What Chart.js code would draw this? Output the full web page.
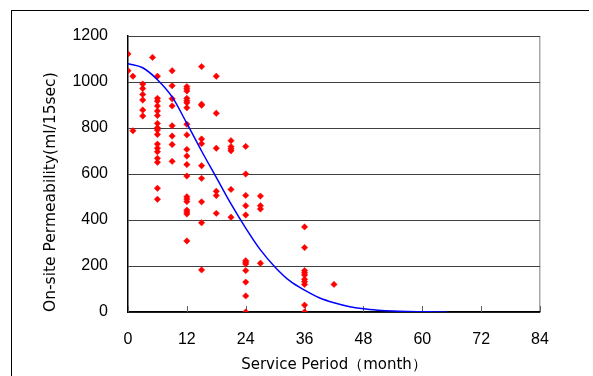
<!DOCTYPE html>
<html>
<head>
<meta charset="utf-8">
<script src="https://cdn.jsdelivr.net/npm/chart.js@4/dist/chart.umd.min.js"></script>
<style>
  html, body { margin: 0; padding: 0; background: #fff; }
  #wrap { position: relative; width: 593px; height: 376px; overflow: hidden; }
  #frame { position: absolute; left: 11px; top: 10px; width: 577px; height: 400px;
           border-top: 1px solid #000; border-left: 1px solid #000; }
  canvas { position: absolute; left: 0; top: 0; }
</style>
</head>
<body>
<div id="wrap">
  <div id="frame"></div>
  <canvas id="c" width="593" height="376"></canvas>
</div>
<script>
// ---- data ----
const xTitle = "Service Period（month）";
const yTitle = "On-site Permeability(ml/15sec)";
const xTicks = [0, 12, 24, 36, 48, 60, 72, 84];
const yTicks = [0, 200, 400, 600, 800, 1000, 1200];

// observed measurements: month -> permeability values
const m0  = [1122, 1049];
const m1  = [1025, 788];
const m3  = [991, 972, 946, 922, 878, 852];
const m5  = [1107];
const m6  = [1025, 929, 917, 896, 874, 854, 820, 801, 791, 772, 730, 712, 697, 668, 651, 538, 490];
const m9  = [1049, 984, 927, 896, 810, 765, 728, 655];
const m12 = [980, 971, 961, 929, 919, 910, 888, 816, 770, 707, 678, 641, 591, 501, 491, 480, 443, 435, 426, 309];
const m15 = [1067, 903, 899, 752, 732, 636, 581, 479, 388, 183];
const m18 = [1025, 864, 712, 525, 506, 429];
const m21 = [745, 719, 710, 701, 533, 412];
const m24 = [720, 600, 507, 462, 422, 223, 216, 209, 180, 130, 70, 0];
const m27 = [504, 462, 448, 212];
const m36 = [370, 280, 180, 171, 161, 142, 132, 120, 30, 0];
const m42 = [120];

// fitted curve
const curveMonths = [0, 3, 6, 9, 12, 15, 18, 21, 24, 27, 30, 33, 36, 39, 42, 45, 48, 51, 54, 57, 60, 63, 65];
const curveValues = [1080, 1062, 1010, 935, 820, 700, 585, 470, 365, 270, 195, 135, 95, 62, 40, 24, 14, 8, 4, 2, 1, 0, 0];

// ---- build datasets ----
const groups = [[0, m0], [1, m1], [3, m3], [5, m5], [6, m6], [9, m9], [12, m12], [15, m15],
                [18, m18], [21, m21], [24, m24], [27, m27], [36, m36], [42, m42]];
const scatterPts = [];
groups.forEach(([m, vals]) => vals.forEach(v => scatterPts.push({x: m, y: v})));
const curvePts = curveMonths.map((m, i) => ({x: m, y: curveValues[i]}));

const insideTicks = {
  id: 'insideTicks',
  beforeDatasetsDraw(chart) {
    const {ctx, chartArea} = chart;
    const xs = chart.scales.x;
    ctx.save();
    ctx.strokeStyle = '#606060';
    ctx.lineWidth = 1;
    xs.ticks.forEach(t => {
      const px = Math.round(xs.getPixelForValue(t.value)) + 0.5;
      ctx.beginPath();
      ctx.moveTo(px, chartArea.bottom);
      ctx.lineTo(px, chartArea.bottom - 6);
      ctx.stroke();
    });
    ctx.restore();
  }
};

new Chart(document.getElementById('c'), {
  type: 'scatter',
  data: {
    datasets: [
      {
        label: 'measured',
        data: scatterPts,
        pointStyle: 'rectRot',
        pointRadius: 3.2,
        pointHoverRadius: 3.2,
        backgroundColor: '#ff0000',
        borderColor: '#ff0000',
        borderWidth: 0.5,
        order: 2
      },
      {
        label: 'curve',
        data: curvePts,
        showLine: true,
        borderColor: '#0000ff',
        borderWidth: 1.5,
        pointRadius: 0,
        fill: false,
        cubicInterpolationMode: 'monotone',
        order: 1
      }
    ]
  },
  options: {
    responsive: false,
    animation: false,
    layout: { padding: { left: 0, top: 36, right: 53, bottom: 0 } },
    plugins: { legend: { display: false }, tooltip: { enabled: false } },
    scales: {
      x: {
        type: 'linear',
        min: 0, max: 84,
        afterBuildTicks: s => { s.ticks = xTicks.map(v => ({value: v})); },
        afterFit: s => { s.height = 64; },
        ticks: { color: '#000', padding: 18, font: { family: 'Liberation Sans', size: 16 },
                 callback: v => String(v) },
        grid: {
          drawTicks: false,
          color: c => (c.tick && c.tick.value === 84) ? '#a8a8a8' : 'rgba(0,0,0,0)',
          lineWidth: 1.5
        },
        border: { color: '#000', width: 1.5 },
        title: { display: true, text: xTitle, color: '#000',
                 font: { family: 'DejaVu Sans', size: 15 }, padding: { top: 0, bottom: 2 } }
      },
      y: {
        min: 0, max: 1200,
        afterBuildTicks: s => { s.ticks = yTicks.map(v => ({value: v})); },
        afterFit: s => { s.width = 128; },
        ticks: { color: '#000', padding: 20, font: { family: 'Liberation Sans', size: 16 },
                 callback: v => String(v) },
        grid: { drawTicks: false, color: '#404040', lineWidth: 1 },
        border: { color: '#000', width: 1.5 },
        title: { display: true, text: yTitle, color: '#000', align: 'start',
                 font: { family: 'DejaVu Sans', size: 15.5 }, padding: { top: 42, bottom: 0 } }
      }
    }
  },
  plugins: [insideTicks]
});
</script>
</body>
</html>
